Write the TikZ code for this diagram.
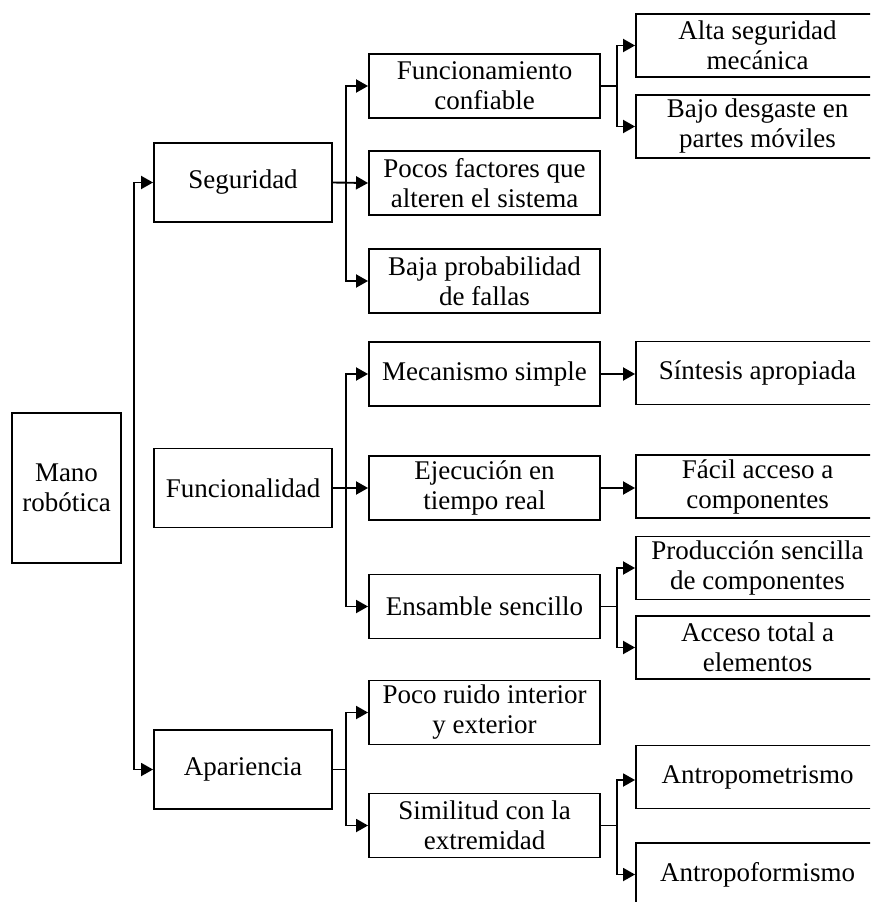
\documentclass[tikz,border=0pt]{standalone}
\usepackage{fontspec}
\setmainfont{Liberation Serif}
\usetikzlibrary{arrows.meta}
\begin{document}
\begin{tikzpicture}[x=1pt,y=-1pt,
  box/.style={draw, line width=1.9pt, align=center, inner sep=0pt,
    font=\fontsize{27}{30}\selectfont},
  c1/.style={box, minimum width=178pt, minimum height=79pt},
  c2/.style={box, minimum width=231pt, minimum height=64pt},
  c3/.style={box, minimum width=243pt, minimum height=63pt},
  arr/.style={line width=1.9pt, -{Triangle[length=12pt,width=13pt]}},
  ln/.style={line width=1.9pt}]
\useasboundingbox (0,0) rectangle (870,902);
\clip (0,0) rectangle (870,902);
% root
\node[box, minimum width=109pt, minimum height=150pt] (mano) at (66.5,488) {Mano\\robótica};
% level 1
\node[c1] (seg) at (243,182.5) {Seguridad};
\node[c1] (fun) at (243,488) {Funcionalidad};
\node[c1] (apa) at (243,769.5) {Apariencia};
% level 2
\node[c2] (conf) at (484.5,86) {Funcionamiento\\confiable};
\node[c2] (poc) at (484.5,183) {Pocos factores que\\alteren el sistema};
\node[c2] (baja) at (484.5,281) {Baja probabilidad\\de fallas};
\node[c2] (mec) at (484.5,374) {Mecanismo simple};
\node[c2] (eje) at (484.5,488) {Ejecución en\\tiempo real};
\node[c2] (ens) at (484.5,606.5) {Ensamble sencillo};
\node[c2] (rui) at (484.5,712.5) {Poco ruido interior\\y exterior};
\node[c2] (sim) at (484.5,825.5) {Similitud con la\\extremidad};
% level 3
\node[c3] (alta) at (757.5,45.5) {Alta seguridad\\mecánica};
\node[c3] (desg) at (757.5,126.5) {Bajo desgaste en\\partes móviles};
\node[c3] (sin) at (757.5,373) {Síntesis apropiada};
\node[c3] (fac) at (757.5,486.5) {Fácil acceso a\\componentes};
\node[c3] (prod) at (757.5,568) {Producción sencilla\\de componentes};
\node[c3] (acc) at (757.5,647.5) {Acceso total a\\elementos};
\node[c3] (amet) at (757.5,777) {Antropometrismo};
\node[c3] (afor) at (757.5,874.5) {Antropoformismo};
% trunk
\coordinate (tr) at (134,769.5);
\draw[arr] (tr) |- (seg.west);
\draw[arr] (tr) -- (apa.west);
% seguridad
\draw[arr] (seg.east) -- ++(13,0) |- (conf.west);
\draw[arr] (seg.east) -- (poc.west);
\draw[arr] (seg.east) -- ++(13,0) |- (baja.west);
% funcionalidad
\draw[arr] (fun.east) -- ++(13,0) |- (mec.west);
\draw[arr] (fun.east) -- (eje.west);
\draw[arr] (fun.east) -- ++(13,0) |- (ens.west);
% apariencia
\draw[arr] (apa.east) -- ++(13,0) |- (rui.west);
\draw[arr] (apa.east) -- ++(13,0) |- (sim.west);
% level 2 -> 3
\draw[arr] (conf.east) -- ++(16,0) |- (alta.west);
\draw[arr] (conf.east) -- ++(16,0) |- (desg.west);
\draw[arr] (mec.east) -- (mec.east -| sin.west);
\draw[arr] (eje.east) -- (eje.east -| fac.west);
\draw[arr] (ens.east) -- ++(16,0) |- (prod.west);
\draw[arr] (ens.east) -- ++(16,0) |- (acc.west);
\draw[arr] (sim.east) -- ++(16,0) |- ([yshift=-3pt]amet.west);
\draw[arr] (sim.east) -- ++(16,0) |- (afor.west);
\end{tikzpicture}
\end{document}
